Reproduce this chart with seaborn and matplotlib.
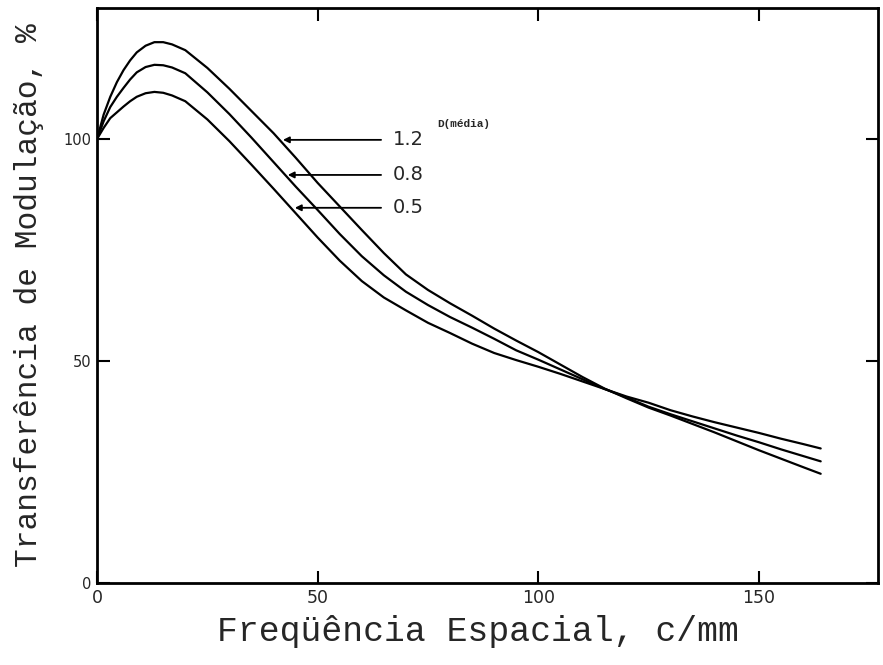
import pandas as pd
import seaborn as sns
import matplotlib.pyplot as plt

# Frequencia espacial (c/mm) em que as curvas foram lidas
freq = [0, 1.5, 3, 4.5, 6, 7.5, 9, 11, 13, 15, 17, 20, 25, 30, 35, 40, 45, 50,
        55, 60, 65, 70, 75, 80, 85, 90, 95, 100, 105, 110, 115, 120, 125, 130,
        135, 140, 145, 150, 155, 160, 164]

# Transferencia de modulacao (%) para cada densidade media
mtf_12 = [100, 105.5, 109.5, 112.8, 115.5, 117.7, 119.5, 121.0, 121.8, 121.8,
          121.3, 120.0, 116.0, 111.3, 106.3, 101.3, 95.8, 90.1, 84.8, 79.5,
          74.3, 69.5, 66.0, 63.0, 60.2, 57.3, 54.6, 52.0, 49.2, 46.4, 43.8,
          41.6, 39.5, 37.7, 35.8, 33.9, 31.9, 29.9, 28.0, 26.1, 24.6]
mtf_08 = [100, 104.0, 107.2, 109.5, 111.5, 113.4, 115.0, 116.2, 116.7, 116.6,
          116.1, 114.8, 110.5, 105.6, 100.3, 94.8, 89.3, 84.0, 78.6, 73.6,
          69.3, 65.6, 62.6, 59.9, 57.5, 55.0, 52.4, 50.3, 48.1, 45.9, 43.7,
          41.8, 39.7, 38.0, 36.4, 34.8, 33.2, 31.7, 30.1, 28.6, 27.4]
mtf_05 = [100, 102.5, 104.7, 106.0, 107.3, 108.5, 109.5, 110.3, 110.6, 110.4,
          109.8, 108.5, 104.4, 99.5, 94.2, 88.8, 83.3, 77.8, 72.6, 68.0,
          64.3, 61.4, 58.6, 56.3, 53.9, 51.8, 50.2, 48.7, 47.1, 45.4, 43.7,
          42.0, 40.6, 38.9, 37.5, 36.2, 35.0, 33.8, 32.5, 31.3, 30.3]

densidades = ['1.2', '0.8', '0.5']
seta_ponta = [(41.5, 99.8), (42.6, 91.9), (44.2, 84.5)]

xticks = [0, 50, 100, 150]
yticks = [0, 50, 100]

df = pd.concat([
    pd.DataFrame({'freq': freq, 'mtf': vals, 'D': d})
    for d, vals in zip(densidades, [mtf_12, mtf_08, mtf_05])
])

sns.set_theme(style="ticks")
plt.rcParams['font.family'] = ['Liberation Mono', 'DejaVu Sans']

fig = plt.figure(figsize=(8.83, 6.65), dpi=100)
ax = fig.add_axes([0.1099, 0.1233, 0.8845, 0.8647])

sns.lineplot(data=df, x='freq', y='mtf', hue='D', units='D', estimator=None,
             palette=['black'] * 3, linewidth=1.6, legend=False, ax=ax, sort=False)

ax.set_xlim(0, 177)
ax.set_ylim(0, 129.5)
ax.set_xticks(xticks)
ax.set_yticks(yticks)
ax.set_xticklabels([str(t) for t in xticks], family='DejaVu Sans', fontsize=12.5)
ax.set_yticklabels([str(t) for t in yticks], family='DejaVu Sans', fontsize=10.5)
ax.tick_params(direction='in', top=True, right=True, length=9, width=1.5,
               color='black', pad=4)

for s in ax.spines.values():
    s.set_linewidth(2)
    s.set_color('black')

ax.set_xlabel('Freqüência Espacial, c/mm', fontsize=25, labelpad=6)
ax.xaxis.set_label_coords(0.488, -0.055, transform=ax.transAxes)
ax.xaxis.label.set_va('top')
ax.set_ylabel('Transferência de Modulação, %', fontsize=22.5, labelpad=14)

# rotulos das curvas com setas
ax.text(77.1, 103.4, 'D(média)', fontsize=8, fontweight='bold', va='center')
for d, (px, py) in zip(densidades, seta_ponta):
    ax.annotate('', xy=(px, py), xytext=(65, py),
                arrowprops=dict(arrowstyle='-|>', color='black', lw=1.3,
                                mutation_scale=9))
    ax.text(67, py, d, family='DejaVu Sans', fontsize=14, va='center')

fig.savefig('out.png', dpi=100)
